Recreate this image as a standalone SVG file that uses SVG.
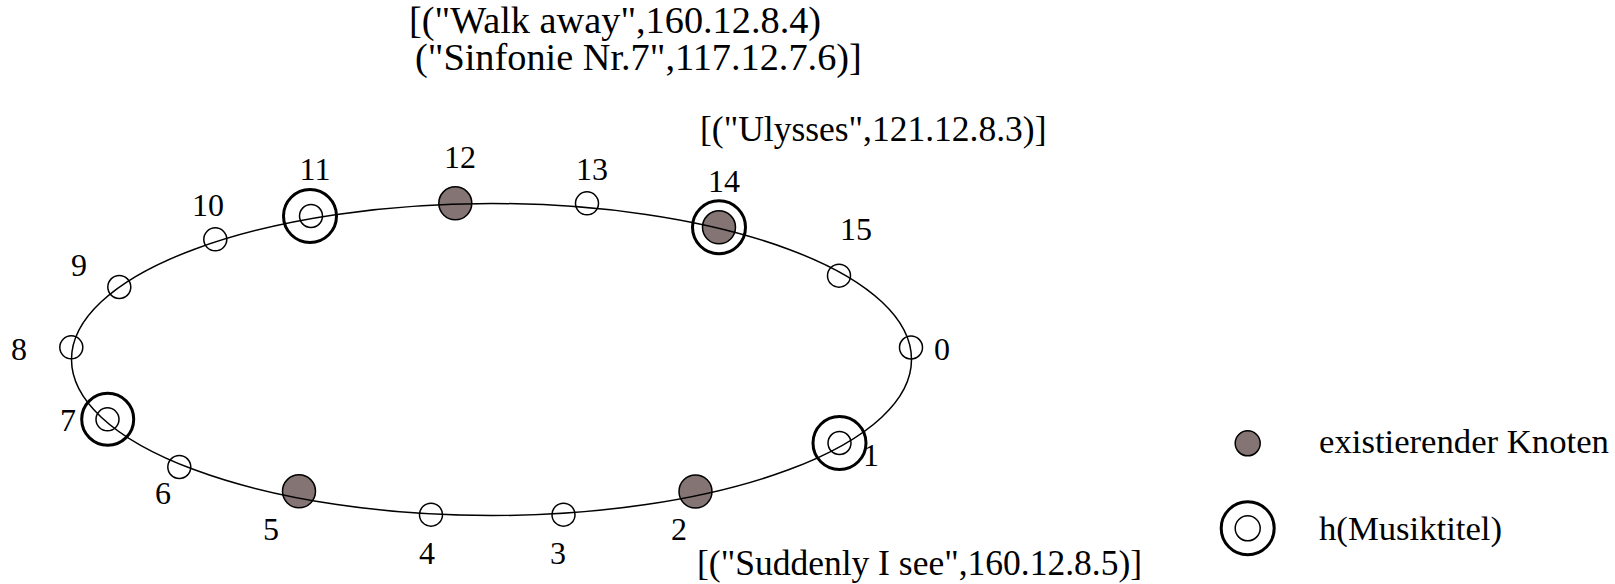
<svg xmlns="http://www.w3.org/2000/svg" width="1615" height="584" viewBox="0 0 1615 584">
<style>
text{font-family:"Liberation Serif","Times New Roman",serif;fill:#000}
.lbl{font-size:32px;text-anchor:middle}
.txt{font-size:35.5px}
.top{font-size:38.3px}
.leg{font-size:34.7px}
.s{fill:none;stroke:#000;stroke-width:1.5}
.f{fill:#847474;stroke:#000;stroke-width:1.5}
.o{fill:none;stroke:#000;stroke-width:3}
.ring{fill:none;stroke:#000;stroke-width:1.5}
</style>
<rect width="1615" height="584" fill="#fff"/>
<g id="nodes">
<g id="n0"><circle class="s" cx="911" cy="347.5" r="11.5"/><text class="lbl" x="942" y="360">0</text></g>
<g id="n1"><circle class="o" cx="839.5" cy="443" r="26.5"/><circle class="s" cx="839.5" cy="443" r="11.5"/><text class="lbl" x="871" y="466">1</text></g>
<g id="n2"><circle class="f" cx="695.5" cy="491.5" r="16.5"/><text class="lbl" x="679" y="540">2</text></g>
<g id="n3"><circle class="s" cx="563.5" cy="514.7" r="11.5"/><text class="lbl" x="558" y="564">3</text></g>
<g id="n4"><circle class="s" cx="431" cy="514.7" r="11.5"/><text class="lbl" x="427" y="564">4</text></g>
<g id="n5"><circle class="f" cx="299" cy="491.3" r="16.5"/><text class="lbl" x="271" y="540">5</text></g>
<g id="n6"><circle class="s" cx="179.3" cy="467" r="11.5"/><text class="lbl" x="163" y="504">6</text></g>
<g id="n7"><circle class="o" cx="107.7" cy="419.3" r="26"/><circle class="s" cx="107.5" cy="419.3" r="11.5"/><text class="lbl" x="68" y="431">7</text></g>
<g id="n8"><circle class="s" cx="71.3" cy="347.3" r="11.5"/><text class="lbl" x="19" y="360">8</text></g>
<g id="n9"><circle class="s" cx="119.3" cy="287" r="11.5"/><text class="lbl" x="79" y="276">9</text></g>
<g id="n10"><circle class="s" cx="215.3" cy="239.3" r="11.5"/><text class="lbl" x="208" y="216">10</text></g>
<g id="n11"><circle class="o" cx="310" cy="216" r="26.5"/><circle class="s" cx="311" cy="216" r="11.5"/><text class="lbl" x="315" y="180">11</text></g>
<g id="n12"><circle class="f" cx="455.3" cy="203.3" r="16.5"/><text class="lbl" x="460" y="168">12</text></g>
<g id="n13"><circle class="s" cx="587" cy="203.3" r="11.5"/><text class="lbl" x="592" y="180">13</text></g>
<g id="n14"><circle class="o" cx="719" cy="227.3" r="26.5"/><circle class="f" cx="719" cy="227.3" r="16.5"/><text class="lbl" x="724" y="192">14</text></g>
<g id="n15"><circle class="s" cx="839" cy="275.7" r="11.5"/><text class="lbl" x="856" y="240">15</text></g>
</g>
<g id="connectors">
<ellipse class="ring" cx="491.5" cy="359.5" rx="420" ry="156"/>
</g>
<g id="annotations">
<text class="top" x="409" y="33">[("Walk away",160.12.8.4)</text>
<text class="top" x="415" y="70">("Sinfonie Nr.7",117.12.7.6)]</text>
<text class="txt" x="700" y="141">[("Ulysses",121.12.8.3)]</text>
<text class="txt" x="697" y="575">[("Suddenly I see",160.12.8.5)]</text>
</g>
<g id="legend">
<g id="legend-existing"><circle class="f" cx="1247.7" cy="443.3" r="12.5"/><text class="leg" x="1319" y="453">existierender Knoten</text></g>
<g id="legend-hash"><circle class="o" cx="1247.7" cy="528.3" r="26.5"/><circle class="s" cx="1247.7" cy="528.3" r="12.5"/><text class="leg" x="1319" y="540">h(Musiktitel)</text></g>
</g>
</svg>
